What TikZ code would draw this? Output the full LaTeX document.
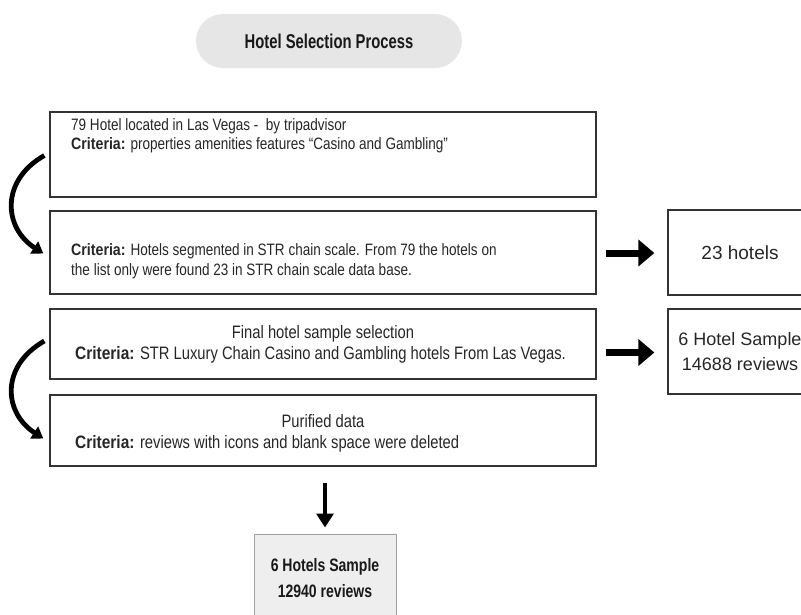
\documentclass[tikz,border=0pt]{standalone}
\usepackage{fontspec}
\setmainfont{Liberation Sans}
\newfontfamily\bodyf{Liberation Sans}[FakeStretch=0.82]
\newfontfamily\critf{Liberation Sans}[FakeStretch=0.86]
\newfontfamily\condf{Liberation Sans}[FakeStretch=0.78]
\newfontfamily\titlef{Liberation Sans}[FakeStretch=0.74]
\usetikzlibrary{arrows.meta}
\definecolor{pillgray}{HTML}{E6E6E6}
\definecolor{resgray}{HTML}{EEEEEE}
\definecolor{resline}{HTML}{A0A0A0}
\newcommand{\critA}{{\critf\bfseries\fontsize{16.5}{19}\selectfont Criteria:}}
\newcommand{\critB}{{\critf\bfseries\fontsize{18}{21}\selectfont Criteria:}}
\begin{document}
\begin{tikzpicture}[x=1pt,y=-1pt,
  stagebox/.style={draw=black!80, line width=1.3pt, rectangle, inner sep=0pt, minimum width=546pt},
  sidebox/.style={draw=black!80, line width=1.3pt, rectangle, inner sep=0pt, minimum width=144pt, minimum height=85pt},
  bodytxt/.style={font=\bodyf\fontsize{16.5}{19}\selectfont, text=black!85, inner sep=0pt},
  bigbodytxt/.style={font=\bodyf\fontsize{18}{20}\selectfont, text=black!85, inner sep=0pt},
  sidetxt/.style={font=\fontsize{18}{22}\selectfont, text=black!85, inner sep=0pt},
  restxt/.style={font=\condf\bfseries\fontsize{18}{22}\selectfont, text=black!90, inner sep=0pt},
  curvearrow/.style={line width=4.8pt, -{Triangle[length=11pt,width=14pt]}},
  fatarrow/.style={line width=7pt, -{Triangle[length=16pt,width=26pt]}},
  downarrow/.style={line width=4pt, -{Triangle[length=14pt,width=17pt]}}
]
\useasboundingbox (0,0) rectangle (801,614);
\clip (0,0) rectangle (801,614);

% title pill
\node[fill=pillgray, rounded corners=27pt, minimum width=266pt, minimum height=54pt,
      font=\titlef\bfseries\fontsize{20}{24}\selectfont, text=black!90] (title) at (329,41) {Hotel Selection Process};

% stage boxes
\node[stagebox, minimum height=85pt] (b1) at (323,154.5) {};
\node[stagebox, minimum height=83pt] (b2) at (323,252.5) {};
\node[stagebox, minimum height=70pt] (b3) at (323,344) {};
\node[stagebox, minimum height=71pt] (b4) at (323,430.5) {};

% texts in stage boxes
\node[bodytxt, anchor=base west] (t1a) at (71,130) {79 Hotel located in Las Vegas -\ \ by tripadvisor};
\node[bodytxt, anchor=base west] (t1b) at (71,149) {\critA{} properties amenities features “Casino and Gambling”};
\node[bodytxt, anchor=base west] (t2a) at (71,255) {\critA{} Hotels segmented in STR chain scale. From 79 the hotels on};
\node[bodytxt, anchor=base west] (t2b) at (71,275) {the list only were found 23 in STR chain scale data base.};
\node[bigbodytxt, anchor=base] (t3a) at (323,338) {Final hotel sample selection};
\node[bigbodytxt, anchor=base west] (t3b) at (75,359) {\critB{} STR Luxury Chain Casino and Gambling hotels From Las Vegas.};
\node[bigbodytxt, anchor=base] (t4a) at (323,427) {Purified data};
\node[bigbodytxt, anchor=base west] (t4b) at (75,448) {\critB{} reviews with icons and blank space were deleted};

% side boxes
\node[sidebox] (s1) at (740,252.5) {};
\node[sidebox] (s2) at (740,351.5) {};
\node[sidetxt, font=\fontsize{19}{22}\selectfont] (s1t) at (740,253) {23 hotels};
\node[sidetxt] (s2a) at (740,341) {6 Hotel Sample};
\node[sidetxt] (s2b) at (740,364) {14688 reviews};

% result box
\node[draw=resline, line width=1pt, fill=resgray, minimum width=142pt, minimum height=88pt, inner sep=0pt] (res) at (325,578) {};
\node[restxt] (r1) at (325,567) {6 Hotels Sample};
\node[restxt] (r2) at (325,591) {12940 reviews};

% connectors
\coordinate (c1s) at ([xshift=-5pt,yshift=-1pt]b1.west);
\coordinate (c1e) at ([xshift=-6pt,yshift=-1pt]b2.west);
\draw[curvearrow] (c1s) .. controls +(-44,25) and +(-40,-26) .. (c1e);
\coordinate (c2s) at ([xshift=-5pt,yshift=3pt]b3.west);
\coordinate (c2e) at ([xshift=-6pt,yshift=-8pt]b4.west);
\draw[curvearrow] (c2s) .. controls +(-44,25) and +(-40,-26) .. (c2e);

\draw[fatarrow, shorten <=9pt, shorten >=13pt] (b2.east |- s1t) -- (s1.west |- s1t);
\draw[fatarrow, shorten <=9pt, shorten >=13pt] ([yshift=-1pt]b3.east |- s2) -- ([yshift=-1pt]s2.west);
\draw[downarrow, shorten <=16pt, shorten >=6pt] (b4.south -| res) -- (res.north);
\end{tikzpicture}
\end{document}
